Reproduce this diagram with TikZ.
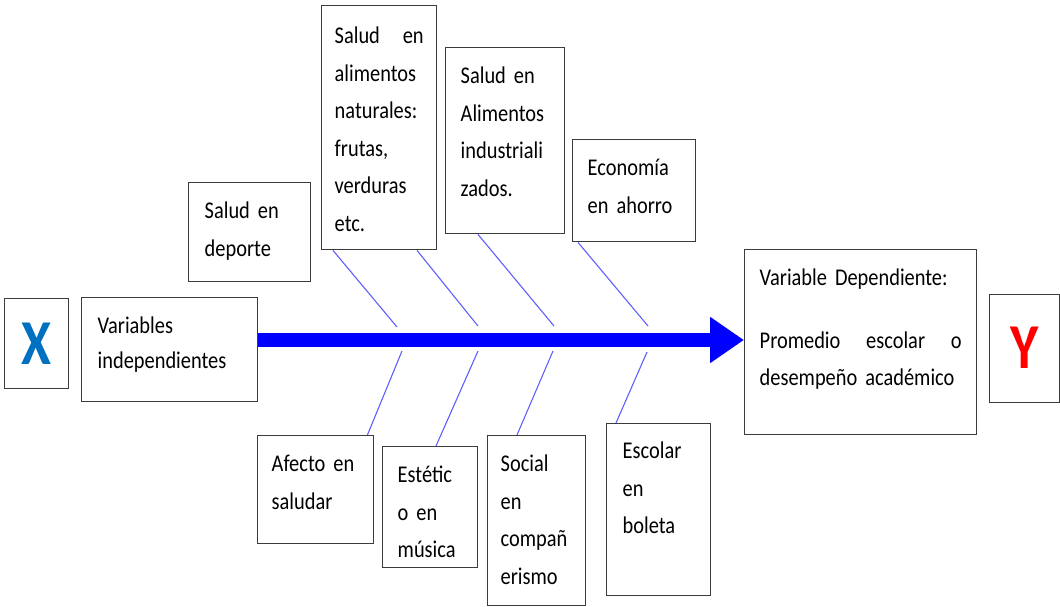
\documentclass[tikz,border=0pt]{standalone}
\usepackage{fontspec}
\setmainfont{Carlito}[FakeStretch=0.85,WordSpace=0.85]
\usepackage{tikz}
\usetikzlibrary{arrows.meta}
\definecolor{borde}{RGB}{60,60,60}
\definecolor{azulx}{RGB}{0,112,192}
\definecolor{huesoazul}{RGB}{95,95,255}
\newcommand{\justa}[1]{\leavevmode\hbox to\linewidth{#1}}

\begin{document}
\begin{tikzpicture}[x=1pt,y=-1pt,
    caja/.style={draw=borde,line width=1.4pt,fill=white,anchor=north west,align=left,
        inner ysep=0pt,text height=36pt,font=\fontsize{24}{37.5}\selectfont},
    letra/.style={draw=borde,line width=1.4pt,anchor=north west,inner sep=0pt,
        font=\fontsize{64}{64}\selectfont\bfseries},
    hueso/.style={draw=huesoazul,line width=1.1pt},
    flecha/.style={draw=blue,line width=14pt,-{Triangle[length=34pt,width=44pt]}}]
\useasboundingbox (0,0) rectangle (1060,607);
% extremos
\node[letra,text=azulx,minimum width=64pt,minimum height=90pt] (x) at (4,298) {\raisebox{-5pt}{X}};
\node[letra,text=red,minimum width=70pt,minimum height=108pt] (y) at (989,294) {\raisebox{2pt}{Y}};
\node[caja,inner xsep=16pt,text width=144pt,text depth=68pt] (vars) at (81,297)
    {Variables\\[-3pt]independientes};
\node[caja,inner xsep=15pt,text width=202pt,text depth=149pt] (dep) at (744,249)
    {\mbox{Variable Dependiente:}\\[25pt]\justa{Promedio\hfill escolar\hfill o}\\\mbox{desempeño académico}};
% causas de arriba
\node[caja,inner xsep=16pt,text width=90pt,text depth=63pt] (deporte) at (188,182)
    {\mbox{Salud en}\\deporte};
\node[caja,inner xsep=13pt,text width=89pt,text height=38pt,text depth=206pt] (nat) at (321,5)
    {\justa{Salud\hfill en}\\alimentos\\naturales:\\frutas,\\verduras\\etc.};
\node[caja,inner xsep=15pt,text width=89pt,text depth=150pt] (ind) at (445,47)
    {\mbox{Salud en}\\Alimentos\\industriali\\zados.};
\node[caja,inner xsep=15pt,text width=93pt,text depth=66pt] (eco) at (572,139)
    {Economía\\\mbox{en ahorro}};
% causas de abajo
\node[caja,inner xsep=14pt,text width=88pt,text depth=72pt] (afecto) at (257,435)
    {\mbox{Afecto en}\\saludar};
\node[caja,inner xsep=15pt,text width=65pt,text depth=85pt] (estet) at (382,446)
    {Estétic\\\mbox{o en}\\música};
\node[caja,inner xsep=13pt,text width=72pt,text depth=134pt] (social) at (487,435)
    {Social\\en\\compañ\\erismo};
\node[caja,inner xsep=16pt,text width=72pt,text height=35pt,text depth=137pt] (escolar) at (606,423)
    {Escolar\\en\\boleta};
% espina
\coordinate (eje) at (0,340);
\draw[flecha] (vars.east |- eje) -- (dep.west |- eje);
\coordinate (u1) at (397,327);
\coordinate (u2) at (478,326);
\coordinate (u3) at (554,326);
\coordinate (u4) at (648,326);
\coordinate (l1) at (402,351);
\coordinate (l2) at (478,351);
\coordinate (l3) at (553,351);
\coordinate (l4) at (647,352);
\draw[hueso] ([xshift=12pt]nat.south west) -- (u1);
\draw[hueso] ([xshift=96pt]nat.south west) -- (u2);
\draw[hueso] ([xshift=33pt]ind.south west) -- (u3);
\draw[hueso] ([xshift=6pt]eco.south west) -- (u4);
\draw[hueso] (l1) -- ([xshift=-7pt]afecto.north east);
\draw[hueso] (l2) -- ([xshift=54pt]estet.north west);
\draw[hueso] (l3) -- ([xshift=30pt]social.north west);
\draw[hueso] (l4) -- ([xshift=10pt]escolar.north west);
\end{tikzpicture}
\end{document}
